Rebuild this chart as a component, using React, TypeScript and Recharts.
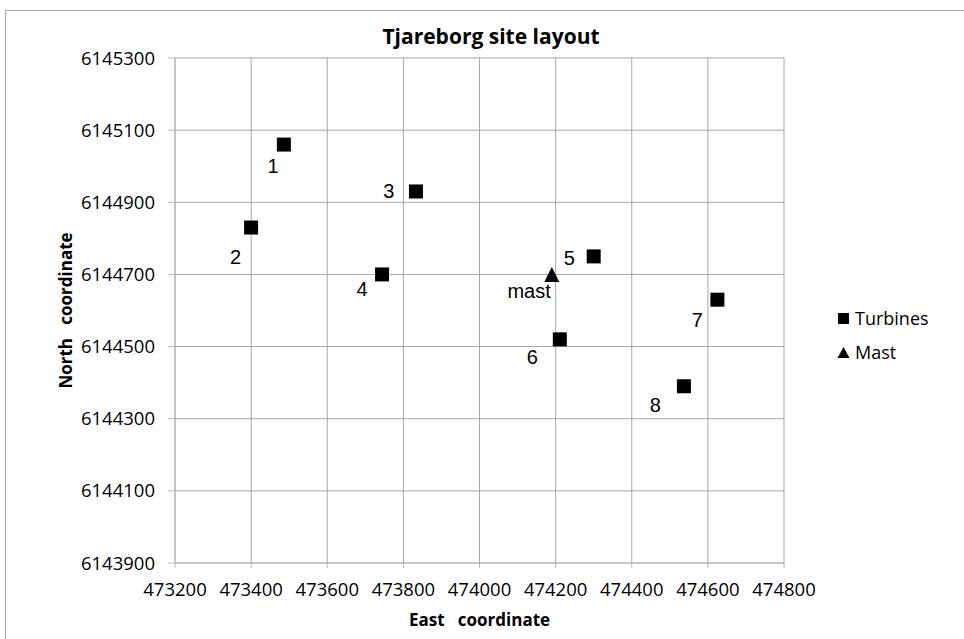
import React from 'react';
import { ScatterChart, Scatter, XAxis, YAxis, CartesianGrid, Label } from 'recharts';

// Turbine positions (UTM east / north) and their names
const turbineEast = [473486, 473400, 473833, 473744, 474300, 474211, 474625, 474537];
const turbineNorth = [6145060, 6144830, 6144930, 6144700, 6144750, 6144520, 6144630, 6144390];
const turbineNames = ['1', '2', '3', '4', '5', '6', '7', '8'];

// Met mast
const mastEast = [474190];
const mastNorth = [6144700];
const mastNames = ['mast'];

const eastTicks = [473200, 473400, 473600, 473800, 474000, 474200, 474400, 474600, 474800];
const northTicks = [6143900, 6144100, 6144300, 6144500, 6144700, 6144900, 6145100, 6145300];

const turbineData = turbineEast.map((e, i) => ({ east: e, north: turbineNorth[i], name: turbineNames[i] }));
const mastData = mastEast.map((e, i) => ({ east: e, north: mastNorth[i], name: mastNames[i] }));

// where each point label sits relative to its marker (baseline, centred text)
const labelOffsets: Record<string, [number, number]> = {
    '1': [-10.7, 28], '2': [-15.5, 36.3], '3': [-27, 6.3], '4': [-20, 22],
    '5': [-24.5, 8.3], '6': [-27.5, 25], '7': [-20.2, 27], '8': [-28.5, 25.3],
    mast: [-22.7, 24],
};

const calibriLike = '"Open Sans", sans-serif';
const arialLike = '"Liberation Sans", Arial, sans-serif';
const gridColor = '#a6a6a6';

const PointLabel = ({ cx, cy, name }: any) => {
    const [dx, dy] = labelOffsets[name] || [0, 0];
    return (
        <text x={cx + dx} y={cy + dy} textAnchor="middle" fontFamily={arialLike} fontSize={20} fill="#000">
            {name}
        </text>
    );
};

const SquareShape = (props: any) => {
    const { cx, cy, payload } = props;
    const s = 14;
    return (
        <g>
            <rect x={cx - s / 2} y={cy - s / 2} width={s} height={s} fill="#000" />
            <PointLabel cx={cx} cy={cy} name={payload.name} />
        </g>
    );
};

const TriangleShape = (props: any) => {
    const { cx, cy, payload } = props;
    const w = 15;
    const h = 15;
    return (
        <g>
            <path d={`M${cx},${cy - h / 2} L${cx + w / 2},${cy + h / 2} L${cx - w / 2},${cy + h / 2} Z`} fill="#000" />
            <PointLabel cx={cx} cy={cy} name={payload.name} />
        </g>
    );
};

export default function App() {
    return (
        <div style={{ position: 'fixed', left: 0, top: 0, width: 964, height: 639, background: '#fff', overflow: 'hidden' }}>
            {/* chart area frame */}
            <div style={{ position: 'absolute', left: 5, top: 10, width: 975, height: 650, border: '1px solid #a6a6a6' }} />

            <div style={{
                position: 'absolute', left: 0, width: 982, top: 21, textAlign: 'center',
                fontFamily: calibriLike, fontWeight: 700, fontSize: 21, color: '#000', lineHeight: '30px'
            }}>
                Tjareborg site layout
            </div>

            <div style={{ position: 'absolute', left: 0, top: 0 }}>
                <ScatterChart width={964} height={639} margin={{ top: 58, right: 180, bottom: 36, left: 95 }}>
                    <CartesianGrid stroke={gridColor} strokeWidth={1} />
                    <XAxis
                        type="number"
                        dataKey="east"
                        domain={[473200, 474800]}
                        ticks={eastTicks}
                        height={40}
                        tickSize={5}
                        tickMargin={15}
                        stroke="#b8b8b8"
                        tick={{ fontFamily: calibriLike, fontSize: 18.5, fill: '#000' }}
                        interval={0}
                        allowDataOverflow
                    >
                        <Label
                            content={({ viewBox }: any) => (
                                <text x={viewBox.x + viewBox.width / 2} y={viewBox.y + 62.7} textAnchor="middle"
                                    fontFamily={calibriLike} fontWeight={700} fontSize={17} fill="#000"
                                    style={{ whiteSpace: 'pre' }}>
                                    {'East   coordinate'}
                                </text>
                            )}
                        />
                    </XAxis>
                    <YAxis
                        type="number"
                        dataKey="north"
                        domain={[6143900, 6145300]}
                        ticks={northTicks}
                        width={80}
                        tickSize={7}
                        tickMargin={13}
                        stroke="#b8b8b8"
                        tick={{ fontFamily: calibriLike, fontSize: 18.5, fill: '#000' }}
                        interval={0}
                        allowDataOverflow
                    >
                        <Label
                            content={({ viewBox }: any) => {
                                const x = 71.5;
                                const y = viewBox.y + viewBox.height / 2;
                                return (
                                    <text x={x} y={y} textAnchor="middle" transform={`rotate(-90, ${x}, ${y})`}
                                        fontFamily={calibriLike} fontWeight={700} fontSize={17} fill="#000"
                                        style={{ whiteSpace: 'pre' }}>
                                        {'North   coordinate'}
                                    </text>
                                );
                            }}
                        />
                    </YAxis>
                    <Scatter name="Turbines" data={turbineData} shape={SquareShape} isAnimationActive={false} />
                    <Scatter name="Mast" data={mastData} shape={TriangleShape} isAnimationActive={false} />
                </ScatterChart>
            </div>

            {/* legend */}
            <div style={{ position: 'absolute', left: 837, top: 304, fontFamily: calibriLike, fontSize: 18, color: '#000' }}>
                <div style={{ display: 'flex', alignItems: 'center', height: 28 }}>
                    <svg width={13} height={13} style={{ marginRight: 5 }}>
                        <rect x={1} y={1} width={11} height={11} fill="#000" />
                    </svg>
                    <span>Turbines</span>
                </div>
                <div style={{ display: 'flex', alignItems: 'center', height: 28, marginTop: 6 }}>
                    <svg width={13} height={13} style={{ marginRight: 5 }}>
                        <path d="M6.5,1 L12.5,12 L0.5,12 Z" fill="#000" />
                    </svg>
                    <span>Mast</span>
                </div>
            </div>
        </div>
    );
}
